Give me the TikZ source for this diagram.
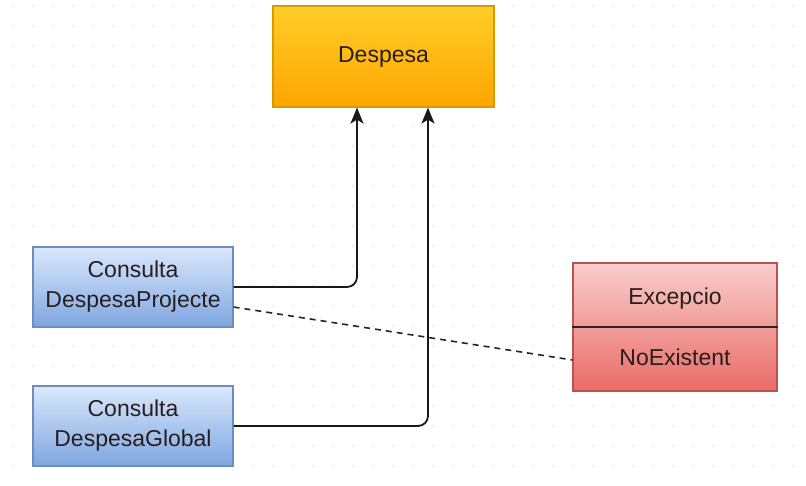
\documentclass[tikz,border=0pt]{standalone}
\usepackage{fontspec}
\setmainfont{Liberation Sans}
\usepackage{tikz}
\usetikzlibrary{arrows,arrows.meta,shapes,positioning}
\usepackage{xcolor}
\definecolor{dforange}{RGB}{255,205,40}
\definecolor{dforange2}{RGB}{255,165,0}
\definecolor{dforangeline}{RGB}{215,155,0}
\definecolor{dfblue}{RGB}{218,232,252}
\definecolor{dfblue2}{RGB}{126,166,224}
\definecolor{dfblueline}{RGB}{108,142,191}
\definecolor{dfred}{RGB}{248,206,204}
\definecolor{dfred2}{RGB}{234,107,102}
\definecolor{dfredline}{RGB}{184,84,80}
\definecolor{dfgrid}{RGB}{222,222,222}
\definecolor{dftext}{RGB}{40,30,30}
\tikzstyle{arrow} = [line width=1.8pt,-{Stealth[length=16pt,width=13pt,inset=4pt]},rounded corners=10pt,color=black!90]
\tikzstyle{entity} = [rectangle, text centered, line width=1.2pt, text=dftext, font=\fontsize{23}{30}\selectfont]
\tikzstyle{orangebox} = [entity, draw=dforangeline, top color=dforange, bottom color=dforange2]
\tikzstyle{bluebox} = [entity, draw=dfblueline, top color=dfblue, bottom color=dfblue2, align=center]
\tikzstyle{redbox} = [entity, draw=dfredline, top color=dfred, bottom color=dfred2]

\begin{document}
\begin{tikzpicture}[x=1pt, y=-1pt]
\useasboundingbox (0,0) rectangle (806,485);
\fill[white] (0,0) rectangle (806,485);

% background grid
\foreach \gx in {13,33,...,806}
  \foreach \gy in {6,26,...,485}
    \fill[dfgrid] (\gx,\gy) circle (0.9pt);

% Despesa class
\node (despesa) [orangebox, minimum width=221pt, minimum height=101pt] at (383.5,56.5) {Despesa};

% Consulta classes
\node (projecte) [bluebox, minimum width=200pt, minimum height=80pt] at (133,287) {Consulta\\DespesaProjecte};
\node (global) [bluebox, minimum width=200pt, minimum height=80pt] at (133,426) {Consulta\\DespesaGlobal};

% Exception class
\node (excepcio) [redbox, minimum width=204pt, minimum height=128pt] at (675,327) {};
\node (excepcioName) [entity] at ([yshift=28pt]excepcio.center) {Excepcio};
\node (excepcioType) [entity] at ([yshift=-30pt]excepcio.center) {NoExistent};
\draw[line width=1.2pt, black!85] (excepcio.west) -- (excepcio.east);

% Inheritance
\draw[arrow] (projecte.east) -| ([xshift=-26.5pt]despesa.south);
\draw[arrow] (global.east) -| ([xshift=44.5pt]despesa.south);

% Dependency
\draw[line width=1.6pt, dash pattern=on 6pt off 5pt, black!85] ([yshift=-20pt]projecte.east) -- ([yshift=-33pt]excepcio.west);

\end{tikzpicture}
\end{document}
